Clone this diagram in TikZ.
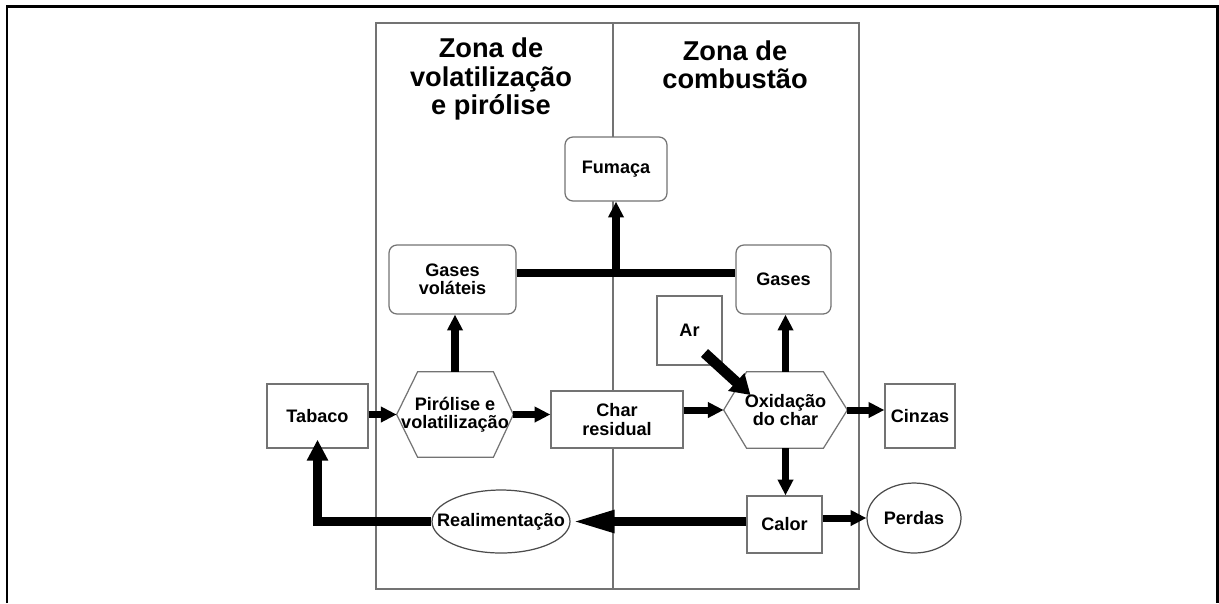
\documentclass[tikz,border=0pt]{standalone}
\usepackage{fontspec}
\setmainfont{Liberation Sans}
\usetikzlibrary{arrows.meta,shapes.geometric}
\begin{document}
\begin{tikzpicture}[x=0.02cm, y=-0.02cm,
	font=\bfseries\fontsize{10.3}{10.3}\selectfont,
	box/.style={draw=black!55, line width=0.7pt, fill=white, align=center, inner sep=0pt},
	roundbox/.style={box, rounded corners=4.5pt},
	oval/.style={ellipse, draw=black!70, line width=0.7pt, fill=white, inner xsep=-14pt, inner ysep=0pt},
	hexa/.style={align=center, inner sep=0pt},
	zone/.style={draw=black!55, line width=0.7pt},
	title/.style={align=center, font=\bfseries\fontsize{15.5}{16}\selectfont},
	flow/.style={-{Triangle[length=9pt, width=8.5pt]}, line width=4pt},
	bigflow/.style={-{Triangle[length=25pt, width=11.5pt]}, line width=5.5pt},
	airflow/.style={-{Triangle[length=11pt, width=13pt]}, line width=6pt},
	backflow/.style={-{Triangle[length=12pt, width=11.5pt]}, line width=5pt}]
	\useasboundingbox (0,0) rectangle (1219,603);
	\draw[line width=1.7pt] (7,603) -- (7,6) -- (1217,6) -- (1217,603);
	\draw[zone] (376,23) rectangle (859,589);
	\draw[zone] (613,23) -- (613,589);
	\node[title] (tvol) at (491,79) {Zona de\\volatilização\\e pirólise};
	\node[title] (tcomb) at (735,65) {Zona de\\combustão};
	\node[box, minimum width=2.02cm, minimum height=1.28cm] (tab) at (317.5,416) {Tabaco};
	\node[box, minimum width=2.64cm, minimum height=1.14cm] (char) at (617,419.5) {Char\\residual};
	\node[roundbox, minimum width=2.54cm, minimum height=1.38cm] (gv) at (452.5,279.5) {Gases\\voláteis};
	\node[roundbox, minimum width=2.04cm, minimum height=1.28cm] (fum) at (616,169) {Fumaça};
	\node[roundbox, minimum width=1.9cm, minimum height=1.38cm] (gas) at (783.5,279.5) {Gases};
	\node[box, minimum width=1.3cm, minimum height=1.38cm] (ar) at (689.5,330.5) {Ar};
	\node[box, minimum width=1.4cm, minimum height=1.28cm] (cin) at (920,416) {Cinzas};
	\node[box, minimum width=1.5cm, minimum height=1.14cm] (cal) at (784.5,524.5) {Calor};
	\node[oval, minimum width=1.88cm, minimum height=1.4cm] (per) at (914,518) {Perdas};
	\node[oval, minimum width=2.76cm, minimum height=1.26cm] (real) at (501,521.5) {Realimentação};
	\node[hexa, minimum width=2.32cm, minimum height=1.7cm] (pir) at (455,414.5) {Pirólise e\\volatilização};
	\node[hexa, minimum width=2.46cm, minimum height=1.52cm] (oxi) at (785.5,410) {Oxidação\\do char};
	\draw[zone] (pir.west) -- ([xshift=0.42cm]pir.north west) -- ([xshift=-0.4cm]pir.north east) -- (pir.east)
	-- ([xshift=-0.4cm]pir.south east) -- ([xshift=0.42cm]pir.south west) -- cycle;
	\draw[zone] (oxi.west) -- ([xshift=0.46cm]oxi.north west) -- ([xshift=-0.48cm]oxi.north east) -- (oxi.east)
	-- ([xshift=-0.48cm]oxi.south east) -- ([xshift=0.46cm]oxi.south west) -- cycle;
	\coordinate (jn) at (616,273);
	\draw[line width=4pt] (gv.east |- jn) -- (gas.west |- jn);
	\draw[flow] (jn) -- (fum.south);
	\draw[flow] (tab.east |- pir.west) -- (pir.west);
	\draw[flow] (pir.east) -- (pir.east -| char.west);
	\draw[flow] (char.east |- oxi.west) -- (oxi.west);
	\draw[flow] (oxi.east) -- (oxi.east -| cin.west);
	\draw[flow] (pir.north) -- (pir.north |- gv.south);
	\draw[flow] (oxi.north) -- (oxi.north |- gas.south);
	\draw[flow] (oxi.south) -- (oxi.south |- cal.north);
	\draw[flow] (cal.east |- per.west) -- (per.west);
	\draw[airflow] ([xshift=0.3cm, yshift=-0.45cm]ar.center) -- ([xshift=-0.7cm, yshift=0.3cm]oxi.center);
	\draw[bigflow] (cal.west |- real.east) -- (real.east);
	\draw[backflow, shorten >=-0.18cm] (real.west) -| (tab.south);
\end{tikzpicture}
\end{document}
